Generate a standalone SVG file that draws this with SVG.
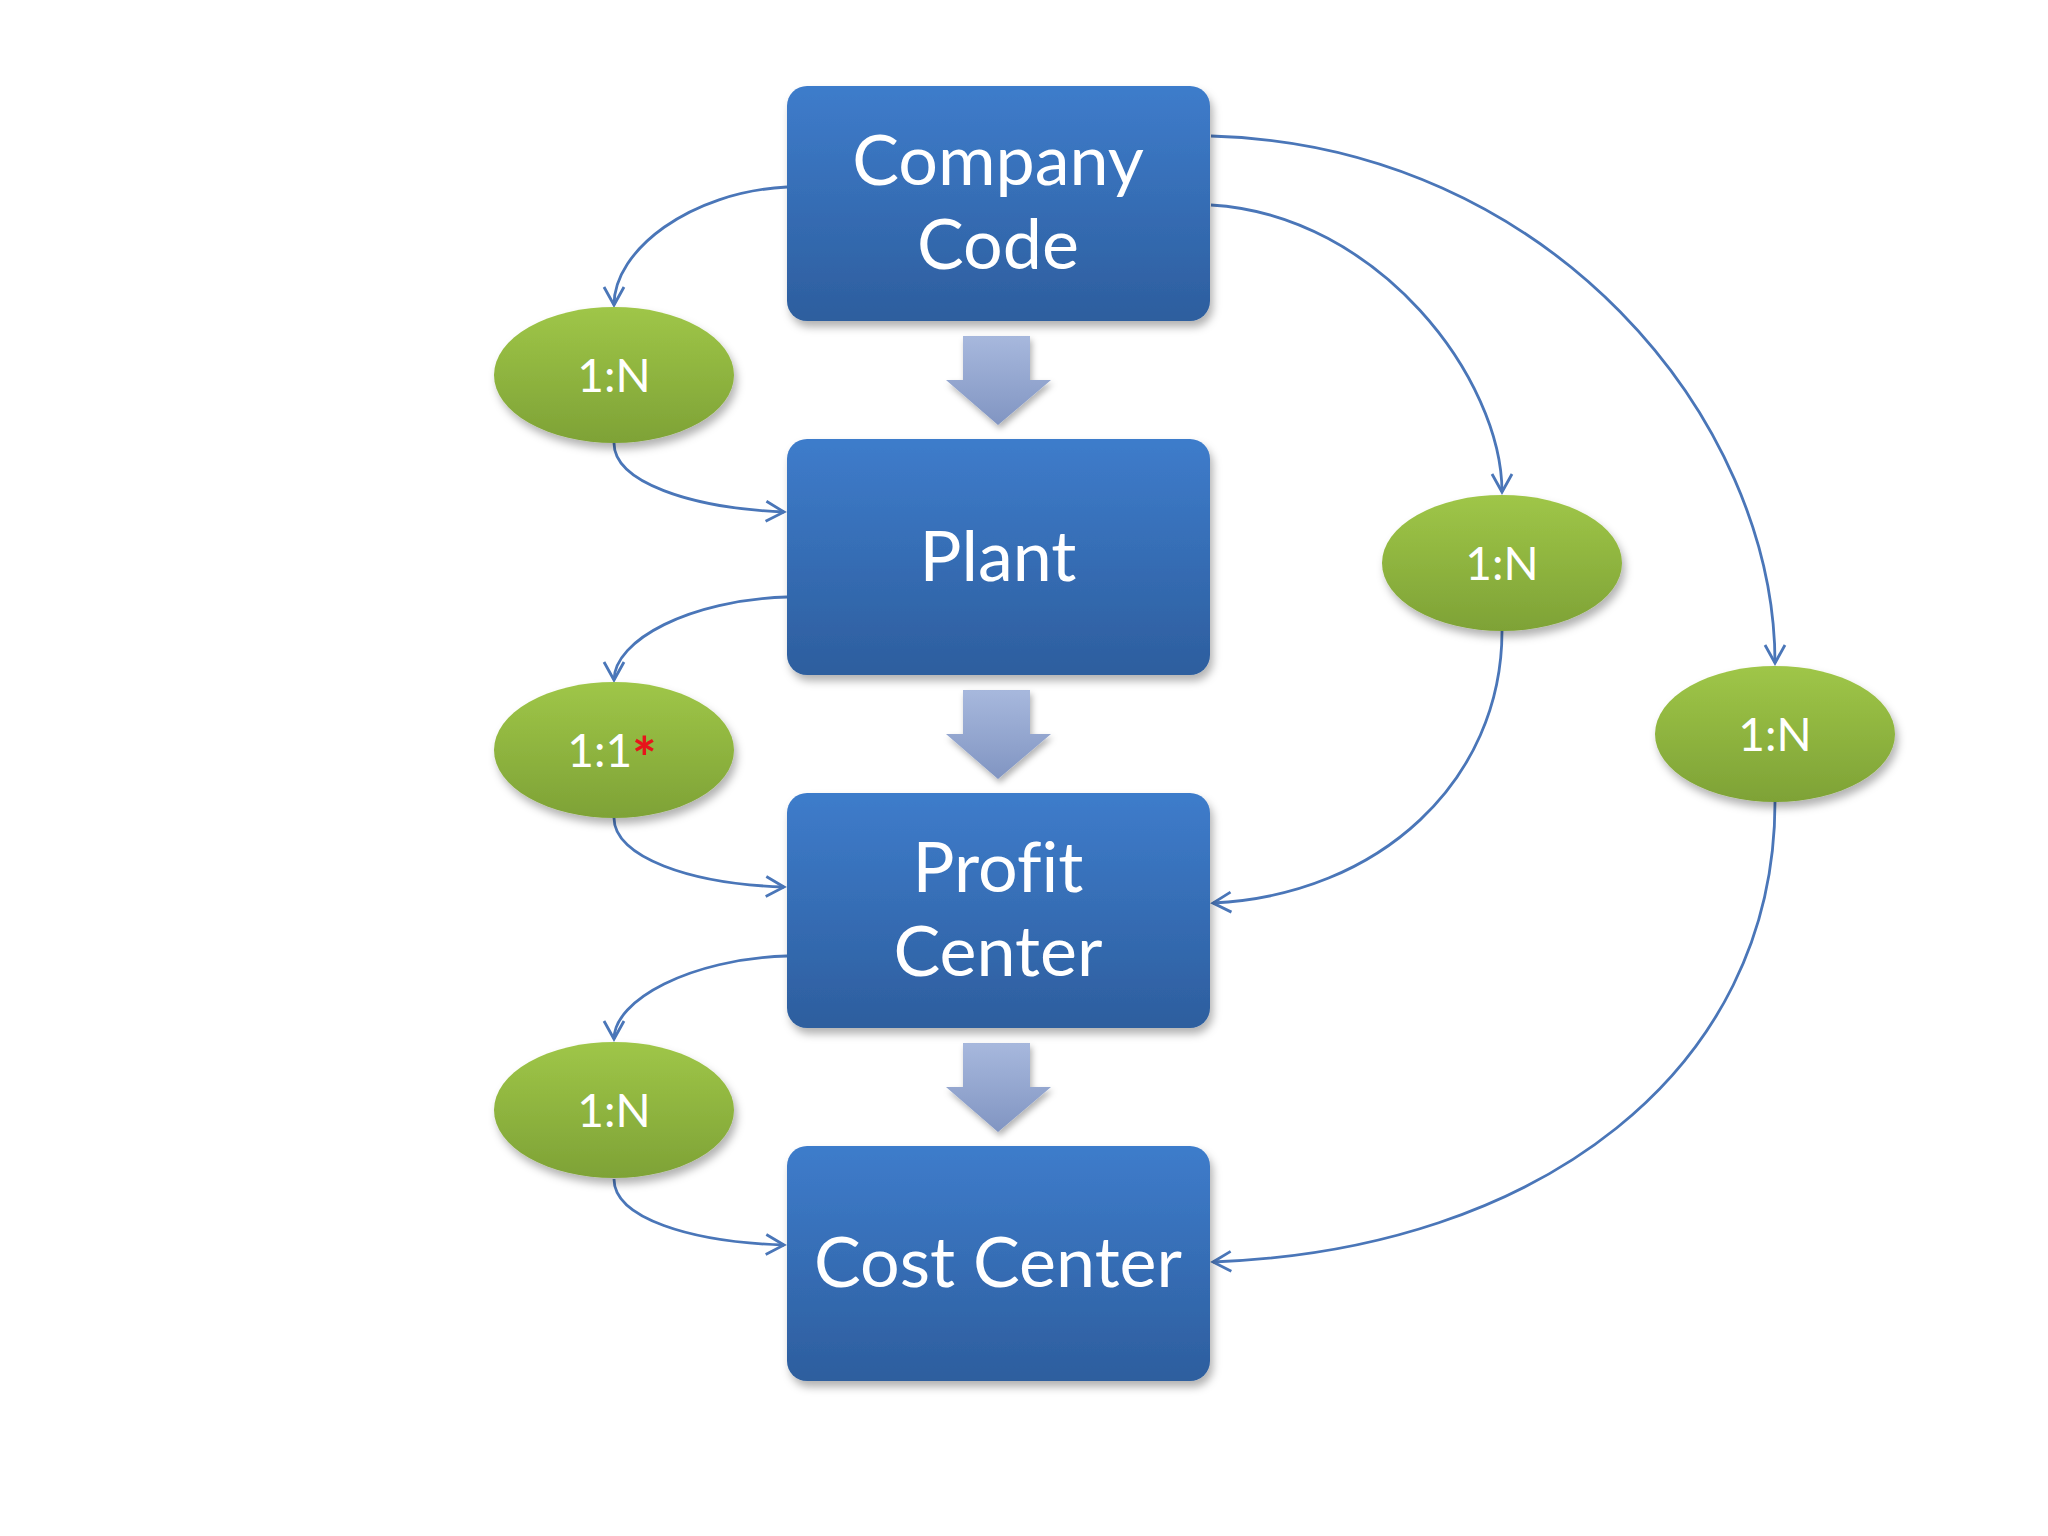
<svg xmlns="http://www.w3.org/2000/svg" width="2048" height="1536" viewBox="0 0 2048 1536">
<defs>
<linearGradient id="gBox" x1="0" y1="0" x2="0" y2="1">
<stop offset="0" stop-color="#3e7ccb"/>
<stop offset="1" stop-color="#2d5e9e"/>
</linearGradient>
<linearGradient id="gEll" x1="0" y1="0" x2="0" y2="1">
<stop offset="0" stop-color="#9fc648"/>
<stop offset="1" stop-color="#7ea236"/>
</linearGradient>
<linearGradient id="gArr" x1="0" y1="0" x2="0" y2="1">
<stop offset="0" stop-color="#a7b8dd"/>
<stop offset="1" stop-color="#8195c2"/>
</linearGradient>
<filter id="sh" x="-10%" y="-10%" width="125%" height="130%">
<feDropShadow dx="3" dy="6" stdDeviation="4" flood-color="#000" flood-opacity="0.3"/>
</filter>
<filter id="shA" x="-20%" y="-20%" width="150%" height="150%">
<feDropShadow dx="2" dy="4" stdDeviation="3" flood-color="#000" flood-opacity="0.3"/>
</filter>
<marker id="ah" markerUnits="userSpaceOnUse" markerWidth="24" markerHeight="24" viewBox="0 0 24 24" refX="21" refY="12" orient="auto">
<path d="M3,2 L21,12 L3,22" fill="none" stroke="#4a76b8" stroke-width="2.8"/>
</marker>
</defs>
<style>
.box{fill:url(#gBox);filter:url(#sh)}
.ell{fill:url(#gEll);filter:url(#sh)}
.arr{fill:url(#gArr);filter:url(#shA)}
.bt{font-family:Lato,"Open Sans",sans-serif;font-size:70px;fill:#fff;text-anchor:middle;font-variant-ligatures:none}
.et{font-family:Lato,"Open Sans",sans-serif;font-size:46px;fill:#fff;text-anchor:middle}
.con path{fill:none;stroke:#4a76b8;stroke-width:2.8;marker-end:url(#ah)}
</style>
<rect width="2048" height="1536" fill="#fff"/>

<g id="connectors" class="con">
<path d="M787,187 C690,192 614,250 614,305"/>
<path d="M614,443 C614,482 690,508 784,512"/>
<path d="M787,597 C690,600 614,640 614,680"/>
<path d="M614,818 C614,857 690,884 784,887"/>
<path d="M787,956 C690,959 614,1000 614,1039"/>
<path d="M614,1179 C614,1218 690,1242 784,1245"/>
<path d="M1211,205 C1380,215 1502,380 1502,492"/>
<path d="M1502,631 C1502,780 1380,895 1213,903"/>
<path d="M1211,136 C1550,145 1775,420 1775,663"/>
<path d="M1775,802 C1775,1070 1540,1250 1213,1262"/>
</g>

<g id="flow-arrows">
<path class="arr" d="M963,336 H1030 V380 H1051 L998,425 L946,380 H963 Z"/>
<path class="arr" d="M963,690 H1030 V734 H1051 L998,779 L946,734 H963 Z"/>
<path class="arr" d="M963,1043 H1030 V1087 H1051 L998,1132 L946,1087 H963 Z"/>
</g>

<g id="company-code">
<rect class="box" x="787" y="86" width="423" height="235" rx="20"/>
<text class="bt" x="998" y="185">Company</text>
<text class="bt" x="998" y="269">Code</text>
</g>
<g id="plant">
<rect class="box" x="787" y="439" width="423" height="236" rx="20"/>
<text class="bt" x="998" y="581">Plant</text>
</g>
<g id="profit-center">
<rect class="box" x="787" y="793" width="423" height="235" rx="20"/>
<text class="bt" x="998" y="892">Profit</text>
<text class="bt" x="998" y="976">Center</text>
</g>
<g id="cost-center">
<rect class="box" x="787" y="1146" width="423" height="235" rx="20"/>
<text class="bt" x="998" y="1287">Cost Center</text>
</g>

<g id="rel-cc-plant">
<ellipse class="ell" cx="614" cy="375" rx="120" ry="68"/>
<text class="et" x="614" y="392">1:N</text>
</g>
<g id="rel-plant-pc">
<ellipse class="ell" cx="614" cy="750" rx="120" ry="68"/>
<text class="et" x="612" y="767">1:1<tspan fill="#e8141b" font-size="58" font-weight="bold" dy="12">*</tspan></text>
</g>
<g id="rel-pc-cost">
<ellipse class="ell" cx="614" cy="1110" rx="120" ry="68"/>
<text class="et" x="614" y="1127">1:N</text>
</g>
<g id="rel-cc-pc">
<ellipse class="ell" cx="1502" cy="563" rx="120" ry="68"/>
<text class="et" x="1502" y="580">1:N</text>
</g>
<g id="rel-cc-cost">
<ellipse class="ell" cx="1775" cy="734" rx="120" ry="68"/>
<text class="et" x="1775" y="751">1:N</text>
</g>
</svg>
